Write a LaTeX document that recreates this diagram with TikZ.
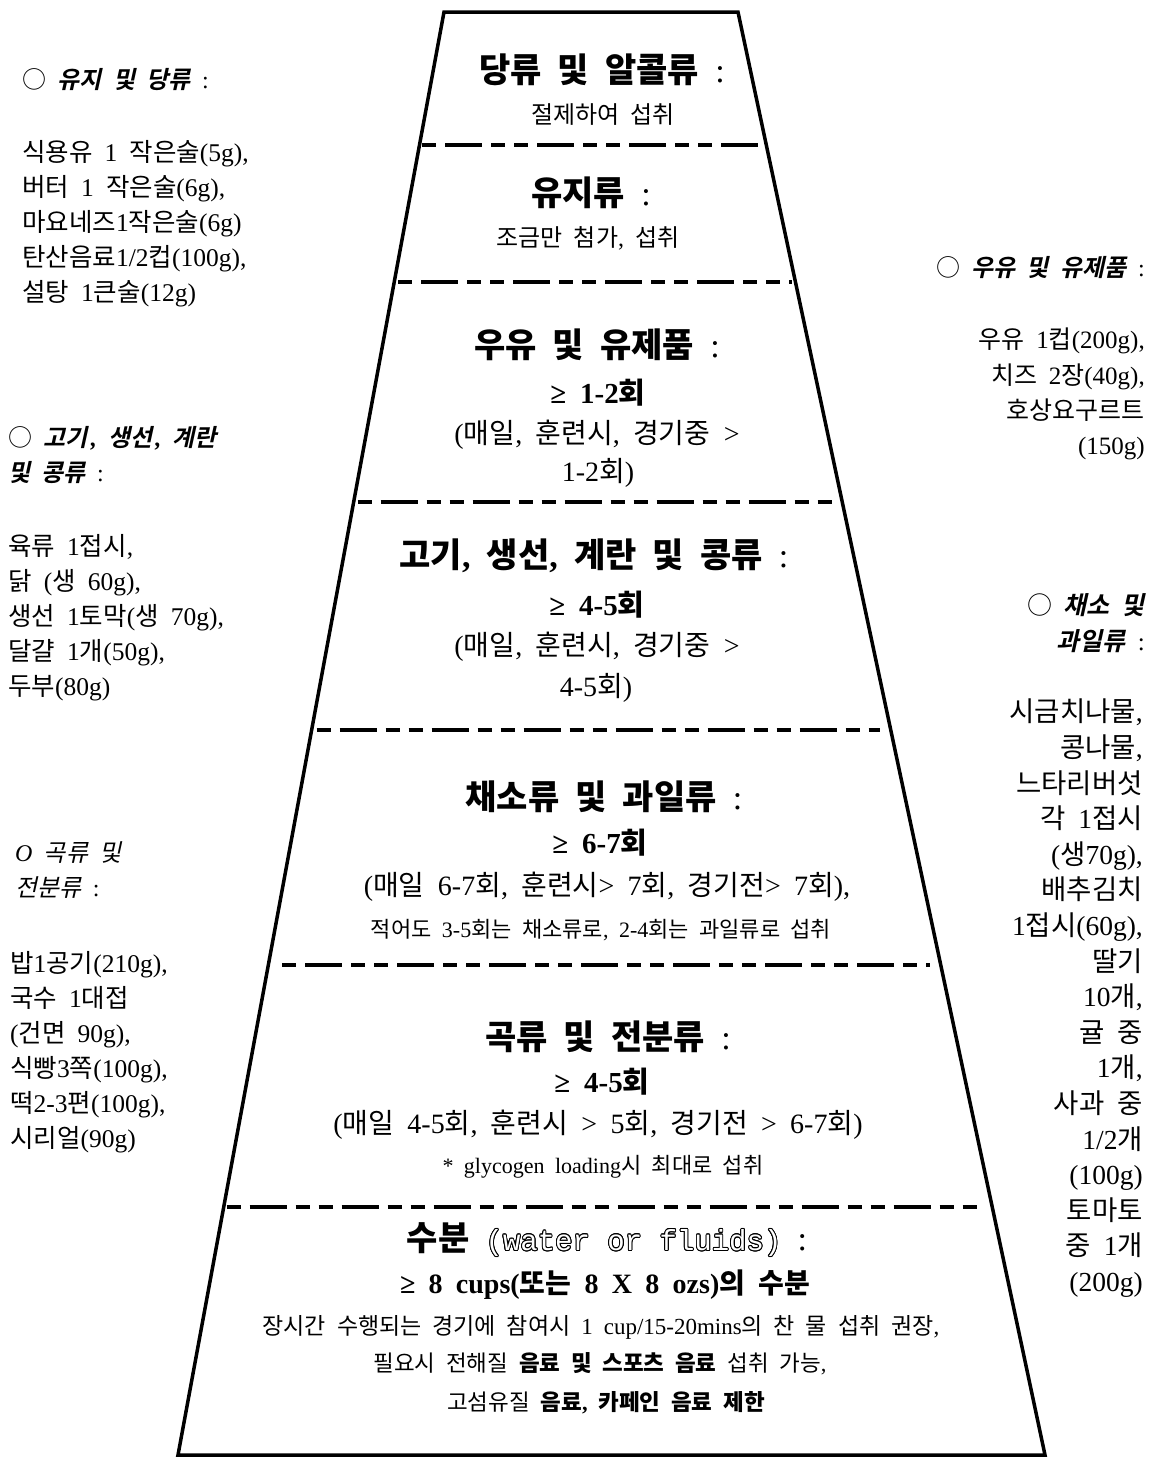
\documentclass[tikz,border=0pt]{standalone}
\usepackage{fontspec}
\usepackage{contour}
\usetikzlibrary{calc}
\setmainfont{Liberation Serif}[WordSpace=1.9]
\newfontfamily\krfont{Noto Sans CJK KR}[ItalicFont={Noto Sans CJK KR}, ItalicFeatures={FakeSlant=0.22}, BoldItalicFont={Noto Sans CJK KR Bold}, BoldItalicFeatures={FakeSlant=0.22}]
\newfontfamily\monofnt{Liberation Mono}
\newcommand{\circmark}{{\krfont\mdseries\upshape ○}}
\contourlength{0.9pt}
\XeTeXinterchartokenstate=1
\newXeTeXintercharclass\krclass
\count255="AC00
\loop
  \XeTeXcharclass\count255=\krclass
  \ifnum\count255<"D7A3 \advance\count255 by 1
\repeat
\XeTeXinterchartoks 0 \krclass = {\krfont}
\XeTeXinterchartoks 4095 \krclass = {\krfont}
\XeTeXinterchartoks \krclass 0 = {\rmfamily}
\XeTeXinterchartoks \krclass 4095 = {\rmfamily}
\tikzset{
  ttl/.style={font=\fontsize{34}{38}\selectfont\bfseries, inner sep=0pt},
  cnt/.style={font=\fontsize{29}{32}\selectfont\bfseries, inner sep=0pt},
  txt/.style={font=\fontsize{28}{32}\selectfont, inner sep=0pt},
  sm/.style={font=\fontsize{22}{26}\selectfont, inner sep=0pt},
  sidel/.style={font=\fontsize{25.5}{35}\selectfont, align=left, anchor=north west, inner sep=0pt},
  sider/.style={font=\fontsize{25}{35.3}\selectfont, align=right, anchor=north east, inner sep=0pt},
  hdl/.style={font=\fontsize{24}{35}\selectfont\bfseries\itshape, align=left, anchor=north west, inner sep=0pt},
  hdr/.style={font=\fontsize{24}{36}\selectfont\bfseries\itshape, align=right, anchor=north east, inner sep=0pt},
  edge/.style={line width=3.5pt, line join=miter},
  sep/.style={line width=4.5pt, dash pattern=on 14pt off 9pt on 37pt off 9pt on 14pt off 9pt}
}
\begin{document}
\begin{tikzpicture}[x=1pt,y=-1pt]
\useasboundingbox (0,0) rectangle (1153,1462);
% pyramid
\coordinate (TL) at (444,12);
\coordinate (TR) at (738,12);
\coordinate (BR) at (1045,1455);
\coordinate (BL) at (178,1455);
\draw[edge] (TL) -- (TR) -- (BR) -- (BL) -- cycle;
% separators
\coordinate (a1) at ($(TL)!0.0922!(BL)+(3,0)$);
\coordinate (b1) at ($(TR)!0.0922!(BR)+(-3,0)$);
\coordinate (a2) at ($(TL)!0.1871!(BL)+(4,0)$);
\coordinate (b2) at ($(TR)!0.1871!(BR)+(-3,0)$);
\coordinate (a3) at ($(TL)!0.3396!(BL)+(4,0)$);
\coordinate (b3) at ($(TR)!0.3396!(BR)+(-7,0)$);
\coordinate (a4) at ($(TL)!0.4976!(BL)+(5,0)$);
\coordinate (b4) at ($(TR)!0.4976!(BR)+(-11,0)$);
\coordinate (a5) at ($(TL)!0.6604!(BL)+(14,0)$);
\coordinate (b5) at ($(TR)!0.6604!(BR)+(-11,0)$);
\coordinate (a6) at ($(TL)!0.8281!(BL)+(3,0)$);
\coordinate (b6) at ($(TR)!0.8281!(BR)+(-8,0)$);
\draw[sep] (a1) -- (b1);
\draw[sep] (a2) -- (b2);
\draw[sep] (a3) -- (b3);
\draw[sep] (a4) -- (b4);
\draw[sep] (a5) -- (b5);
\draw[sep] (a6) -- (b6);
% level 1
\node[ttl] (t1) at (602,70) {당류 및 알콜류 {\mdseries :}};
\node[txt, font=\fontsize{24}{28}\selectfont] (s1) at (603,115) {절제하여 섭취};
% level 2
\node[ttl] (t2) at (591,193) {유지류 {\mdseries :}};
\node[txt, font=\fontsize{24}{28}\selectfont] (s2) at (588,238) {조금만 첨가, 섭취};
% level 3
\node[ttl] (t3) at (597,345) {우유 및 유제품 {\mdseries :}};
\node[cnt] (c3) at (598,393) {≥ 1-2회};
\node[txt] (p3) at (597,435) {(매일, 훈련시, 경기중 >};
\node[txt] (q3) at (598,473) {1-2회)};
% level 4
\node[ttl] (t4) at (594,556) {고기, 생선, 계란 및 콩류 {\mdseries :}};
\node[cnt] (c4) at (597,605) {≥ 4-5회};
\node[txt] (p4) at (597,647) {(매일, 훈련시, 경기중 >};
\node[txt] (q4) at (596,688) {4-5회)};
% level 5
\node[ttl] (t5) at (604,797) {채소류 및 과일류 {\mdseries :}};
\node[cnt] (c5) at (600,843) {≥ 6-7회};
\node[txt] (p5) at (607,887) {(매일 6-7회, 훈련시> 7회, 경기전> 7회),};
\node[sm] (q5) at (601,930) {적어도 3-5회는 채소류로, 2-4회는 과일류로 섭취};
% level 6
\node[ttl] (t6) at (608,1037) {곡류 및 전분류 {\mdseries :}};
\node[cnt] (c6) at (602,1082) {≥ 4-5회};
\node[txt] (p6) at (598,1125) {(매일 4-5회, 훈련시 > 5회, 경기전 > 6-7회)};
\node[sm] (q6) at (603,1167) {* glycogen loading시 최대로 섭취};
% level 7
\node[ttl] (t7) at (607,1240) {수분 {\mdseries\monofnt\fontsize{29}{32}\selectfont\color{white}\contour{black}{(water or fluids)}} {\mdseries :}};
\node[cnt, font=\fontsize{28}{32}\selectfont\bfseries] (c7) at (605,1285) {≥ 8 cups(또는 8 X 8 ozs)의 수분};
\node[sm, font=\fontsize{23}{26}\selectfont] (p7) at (601,1327) {장시간 수행되는 경기에 참여시 1 cup/15-20mins의 찬 물 섭취 권장,};
\node[sm, font=\fontsize{22.5}{26}\selectfont] (q7) at (600,1364) {필요시 전해질 {\bfseries 음료 및 스포츠 음료} 섭취 가능,};
\node[sm, font=\fontsize{22.5}{26}\selectfont] (r7) at (606,1403) {고섬유질 {\bfseries 음료, 카페인 음료 제한}};
% left side
\node[hdl] (lh1) at (22,68) {\circmark{} 유지 및 당류 {\mdseries\upshape :}};
\node[sidel] (lb1) at (22,140) {식용유 1 작은술(5g),\\버터 1 작은술(6g),\\마요네즈1작은술(6g)\\탄산음료1/2컵(100g),\\설탕 1큰술(12g)};
\node[hdl] (lh2) at (8,426) {\circmark{} 고기\kern3pt, 생선\kern3pt, 계란\\및 콩류 {\mdseries\upshape :}};
\node[sidel] (lb2) at (8,534) {육류 1접시,\\닭 (생 60g),\\생선 1토막(생 70g),\\달걀 1개(50g),\\두부(80g)};
\node[hdl, font=\fontsize{24}{35}\selectfont\itshape] (lh3) at (15,841) {O 곡류 및\\전분류 {\upshape :}};
\node[sidel] (lb3) at (10,951) {밥1공기(210g),\\국수 1대접\\(건면 90g),\\식빵3쪽(100g),\\떡2-3편(100g),\\시리얼(90g)};
% right side
\node[hdr] (rh1) at (1145,256) {\circmark{} 우유 및 유제품 {\mdseries\upshape :}};
\node[sider] (rb1) at (1145,328) {우유 1컵(200g),\\치즈 2장(40g),\\호상요구르트\\(150g)};
\node[hdr, font=\fontsize{25}{36}\selectfont\bfseries\itshape] (rh2) at (1145,593) {\circmark{} 채소 및\\과일류 {\mdseries\upshape :}};
\node[sider, font=\fontsize{27.5}{35.6}\selectfont] (rb2) at (1143,699) {시금치나물,\\콩나물,\\느타리버섯\\각 1접시\\(생70g),\\배추김치\\1접시(60g),\\딸기\\10개,\\귤 중\\1개,\\사과 중\\1/2개\\(100g)\\토마토\\중 1개\\(200g)};
\end{tikzpicture}
\end{document}
